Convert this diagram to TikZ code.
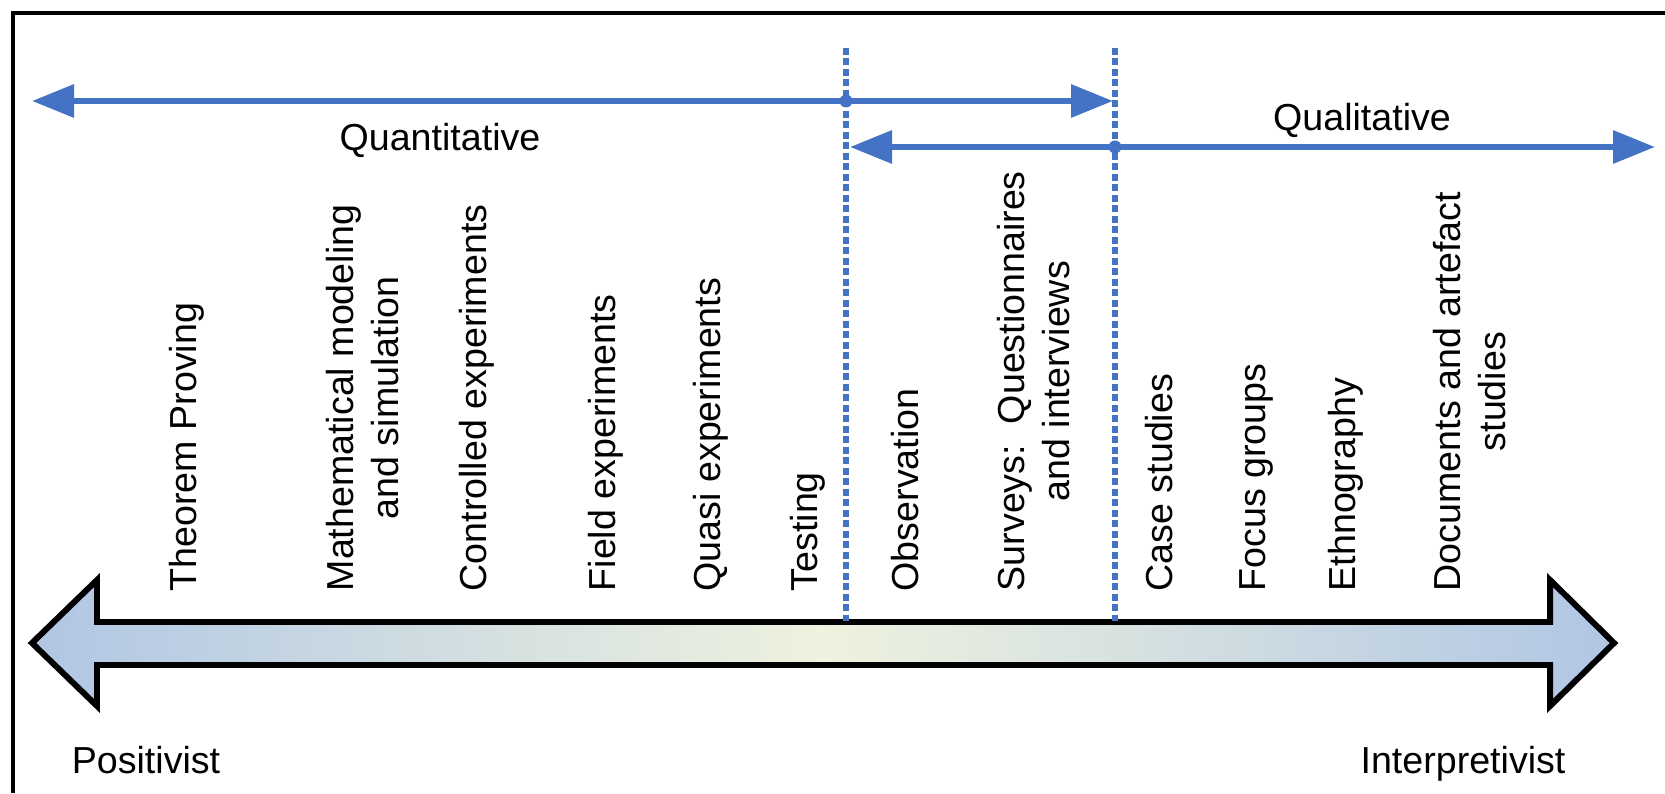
\documentclass[tikz,border=0pt]{standalone}
\usepackage{fontspec}
\setmainfont{Liberation Sans}
\usepackage{tikz}
\usetikzlibrary{arrows.meta}
\usetikzlibrary{positioning}
\usetikzlibrary{calc}
\definecolor{lineblue}{RGB}{68,114,196}
\definecolor{axisblue}{RGB}{176,198,228}
\definecolor{axiscream}{RGB}{238,242,222}
\tikzset{
  % Common styles for the spectrum
  spanarrow/.style={draw=lineblue, line width=1.8pt, {Triangle[length=4.2mm,width=3.2mm]}-{Triangle[length=4.2mm,width=3.2mm]}},
  divider/.style={draw=lineblue, line width=1.5pt, dash pattern=on 0.7mm off 0.35mm},
  method/.style={rotate=90, anchor=west, inner sep=0pt, align=center}
}

\begin{document}
\begin{tikzpicture}[x=0.1mm, y=0.1mm, font=\fontsize{10.7}{12.8}\selectfont]
    % Define styles
    \tikzstyle{heading} = [inner sep=0pt]
    \tikzstyle{pole} = [anchor=base, inner sep=0pt]
    \tikzstyle{axis} = [draw, line width=1.7pt, line join=miter, left color=axisblue, right color=axisblue, middle color=axiscream]

    \useasboundingbox (0,0) rectangle (1665,793);
    \draw [line width=1.2pt] (13,0) |- (1665,780);

    % Big axis arrow
    \path [axis] (32,150) -- (97,213) -- (97,171) -- (1550,171) -- (1550,213) -- (1614,150)
        -- (1550,87) -- (1550,128) -- (97,128) -- (97,87) -- cycle;

    % Place coordinates
    \coordinate (quantL) at (32,692);
    \coordinate (quantR) at (1113,692);
    \coordinate (qualL) at (850,646);
    \coordinate (qualR) at (1655,646);
    \coordinate (splitA) at (846,745);
    \coordinate (splitB) at (1115,745);
    \coordinate (splitAend) at (846,172);
    \coordinate (splitBend) at (1115,172);

    % Place nodes
    \node [heading] (quantitative) at (440,653) {Quantitative};
    \node [heading] (qualitative) at (1362,673) {Qualitative};
    \node [pole] (positivist) at (146,20) {Positivist};
    \node [pole] (interpretivist) at (1463,20) {Interpretivist};

    \node [method] (theorem) at (187,201) {Theorem Proving};
    \node [method] (mathsim) at (363,201) {Mathematical modeling\\and simulation};
    \node [method] (controlled) at (477,201) {Controlled experiments};
    \node [method] (field) at (606,201) {Field experiments};
    \node [method] (quasi) at (711,201) {Quasi experiments};
    \node [method] (testing) at (808,201) {Testing};
    \node [method] (observation) at (905,201) {Observation};
    \node [method] (surveys) at (1034,201) {Surveys:\ \ Questionnaires\\and interviews};
    \node [method] (casestudies) at (1159,201) {Case studies};
    \node [method] (focus) at (1256,201) {Focus groups};
    \node [method] (ethno) at (1346,201) {Ethnography};
    \node [method] (documents) at (1470,201) {Documents and artefact\\studies};

    % Draw edges
    \path [divider] (splitA) -- (splitAend);
    \path [divider] (splitB) -- (splitBend);
    \path [spanarrow] (quantL) -- (quantR);
    \path [spanarrow] (qualL) -- (qualR);
    \fill [lineblue] (splitA |- quantL) circle (0.65mm);
    \fill [lineblue] (splitB |- qualL) circle (0.65mm);

\end{tikzpicture}
\end{document}
